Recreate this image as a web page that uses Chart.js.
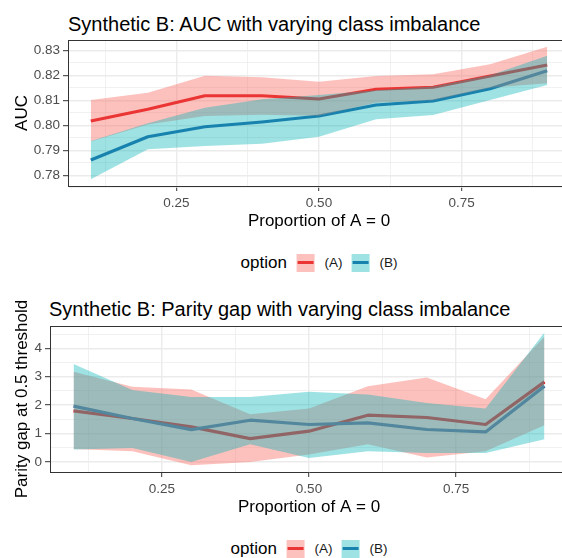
<!DOCTYPE html>
<html>
<head>
<meta charset="utf-8">
<script src="https://cdn.jsdelivr.net/npm/chart.js@4.4.1/dist/chart.umd.min.js"></script>
<style>
  html, body { margin: 0; padding: 0; background: #fff; }
  body { width: 562px; height: 558px; overflow: hidden; position: relative; font-family: "Liberation Sans", Arial, sans-serif; }
  canvas { position: absolute; left: 0; }
  .title { position: absolute; font-size: 20px; line-height: 20px; color: #000; white-space: nowrap; }
  .legend { position: absolute; display: flex; align-items: center; white-space: nowrap; transform: translateX(-50%); }
  .legend .name { font-size: 17px; line-height: 18px; margin-right: 10px; color: #000; }
  .legend .key { position: relative; width: 18px; height: 18px; background: #fff; margin-right: 9.5px; }
  .legend .key .ln { position: absolute; left: 1px; right: 1px; top: 7.3px; height: 3px; }
  .legend .key .band { position: absolute; left: 0; top: 0; right: 0; bottom: 0; }
  .legend .lab { font-size: 13.5px; line-height: 18px; color: #1a1a1a; margin-right: 9.5px; }
  .legend .lab:last-child { margin-right: 0; }
</style>
</head>
<body>
<div class="title" style="left:68px; top:13.5px;">Synthetic B: AUC with varying class imbalance</div>
<canvas id="aucChart" width="570" height="240" style="top:0px;"></canvas>
<div class="legend" id="aucLegend" style="left:319px; top:254px;"></div>

<div class="title" style="left:49px; top:299px;">Synthetic B: Parity gap with varying class imbalance</div>
<canvas id="gapChart" width="568" height="240" style="top:286px;"></canvas>
<div class="legend" id="gapLegend" style="left:309px; top:540px;"></div>

<script>
// --- DATA ---
const proportions = [0.1, 0.2, 0.3, 0.4, 0.5, 0.6, 0.7, 0.8, 0.9];
const optionNames = ['(A)', '(B)'];

// AUC: mean and band for each option
const aucA   = [0.8017, 0.8064, 0.8118, 0.8118, 0.8105, 0.8144, 0.8152, 0.8197, 0.8241];
const aucAHi = [0.8101, 0.8130, 0.8198, 0.8192, 0.8174, 0.8197, 0.8204, 0.8244, 0.8314];
const aucALo = [0.7935, 0.8003, 0.8037, 0.8042, 0.8038, 0.8090, 0.8100, 0.8150, 0.8168];
const aucB   = [0.7861, 0.7954, 0.7994, 0.8013, 0.8037, 0.8081, 0.8097, 0.8146, 0.8218];
const aucBHi = [0.7937, 0.8008, 0.8070, 0.8104, 0.8121, 0.8140, 0.8155, 0.8200, 0.8278];
const aucBLo = [0.7784, 0.7904, 0.7917, 0.7926, 0.7954, 0.8024, 0.8041, 0.8101, 0.8161];

// parity gap at 0.5 threshold: mean and band for each option
const gapA   = [1.80, 1.53, 1.235, 0.824, 1.083, 1.647, 1.566, 1.32, 2.82];
const gapAHi = [3.175, 2.646, 2.55, 1.68, 1.88, 2.67, 2.977, 2.21, 4.41];
const gapALo = [0.46, 0.377, -0.116, 0.0, 0.26, 0.624, 0.155, 0.377, 1.294];
const gapB   = [1.965, 1.53, 1.14, 1.47, 1.32, 1.376, 1.143, 1.058, 2.67];
const gapBHi = [3.446, 2.53, 2.29, 2.29, 2.47, 2.376, 2.08, 1.88, 4.56];
const gapBLo = [0.44, 0.494, 0.0, 0.624, 0.142, 0.377, 0.317, 0.317, 0.80];

// grid lines (major + minor) and the labelled ticks
const xGrid = [0.125, 0.25, 0.375, 0.5, 0.625, 0.75, 0.875];
const xTickLabels = [0.25, 0.5, 0.75];
const aucGrid = [0.775, 0.78, 0.785, 0.79, 0.795, 0.80, 0.805, 0.81, 0.815, 0.82, 0.825, 0.83];
const aucTickLabels = [0.78, 0.79, 0.80, 0.81, 0.82, 0.83];
const gapGrid = [0, 0.5, 1, 1.5, 2, 2.5, 3, 3.5, 4, 4.5];
const gapTickLabels = [0, 1, 2, 3, 4];

// --- STYLE ---
const FONT = '"Liberation Sans", Arial, sans-serif';
const lineColors = ['#de0006', '#2864aa'];
const bandColors = ['rgba(248,118,109,0.45)', 'rgba(0,178,182,0.38)'];

const isOn = (v, list) => list.some(t => Math.abs(t - v) < 1e-9);

// panel border along the top (left/bottom come from the axes)
const panelTop = {
    id: 'panelTop',
    afterDatasetsDraw(chart) {
        const { ctx, chartArea: a } = chart;
        ctx.save();
        ctx.strokeStyle = '#333333';
        ctx.lineWidth = 1;
        ctx.beginPath();
        ctx.moveTo(a.left, a.top + 0.5);
        ctx.lineTo(a.right, a.top + 0.5);
        ctx.stroke();
        ctx.restore();
    }
};

function axisStyle(grid, labels, digits) {
    return {
        afterBuildTicks: s => { s.ticks = grid.map(value => ({ value })); },
        grid: {
            color: '#EBEBEB',
            lineWidth: c => (c.tick && isOn(c.tick.value, labels)) ? 1.4 : 0.7,
            tickColor: c => (c.tick && isOn(c.tick.value, labels)) ? '#333333' : 'rgba(0,0,0,0)',
            tickLength: 5,
            tickWidth: 1
        },
        border: { color: '#333333', width: 1 },
        ticks: {
            callback: v => isOn(v, labels) ? v.toFixed(digits) : '',
            color: '#4D4D4D',
            font: { family: FONT, size: 13.5 },
            autoSkip: false,
            maxRotation: 0
        }
    };
}

function buildPanel(canvasId, series, yGrid, yLabels, yDigits, yMin, yMax, yTitle, yWidth) {
    const pts = arr => proportions.map((x, i) => ({ x, y: arr[i] }));
    const datasets = [];
    // lines go first; the bands are laid over them
    series.forEach((s, k) => datasets.push({
        data: pts(s.mean), borderColor: lineColors[k], borderWidth: 3.2,
        borderJoinStyle: 'round', pointRadius: 0, fill: false, order: 10 - k
    }));
    series.forEach((s, k) => {
        datasets.push({
            data: pts(s.lo), borderColor: 'rgba(0,0,0,0)', borderWidth: 0,
            pointRadius: 0, fill: false, order: 6 - 2 * k
        });
        datasets.push({
            data: pts(s.hi), borderColor: 'rgba(0,0,0,0)', borderWidth: 0,
            pointRadius: 0, backgroundColor: bandColors[k], fill: '-1', order: 5 - 2 * k
        });
    });

    const x = axisStyle(xGrid, xTickLabels, 2);
    Object.assign(x, {
        type: 'linear', min: 0.06, max: 0.94,
        afterFit: s => { s.height = 54; },
        title: { display: true, text: 'Proportion of A = 0', color: '#000',
                 font: { family: FONT, size: 17 }, padding: { top: 0, bottom: 8 } }
    });
    x.ticks.padding = 4;

    const y = axisStyle(yGrid, yLabels, yDigits);
    Object.assign(y, {
        type: 'linear', min: yMin, max: yMax,
        afterFit: s => { s.width = yWidth; },
        title: { display: true, text: yTitle, color: '#000',
                 font: { family: FONT, size: 17 }, padding: { top: 12, bottom: 0 } }
    });
    y.ticks.padding = 3;

    return new Chart(document.getElementById(canvasId), {
        type: 'line',
        data: { datasets },
        options: {
            responsive: false,
            animation: false,
            devicePixelRatio: 1,
            elements: { line: { tension: 0 } },
            layout: { padding: { top: 40, left: 0, right: 0, bottom: 0 } },
            plugins: { legend: { display: false }, tooltip: { enabled: false }, title: { display: false } },
            scales: { x, y }
        },
        plugins: [panelTop]
    });
}

function buildLegend(id) {
    const box = document.getElementById(id);
    box.innerHTML = '<span class="name">option</span>';
    optionNames.forEach((n, k) => {
        box.innerHTML += `<span class="key"><span class="ln" style="background:${lineColors[k]}"></span>` +
            `<span class="band" style="background:${bandColors[k]}"></span></span><span class="lab">${n}</span>`;
    });
}

buildPanel('aucChart',
    [{ mean: aucA, lo: aucALo, hi: aucAHi }, { mean: aucB, lo: aucBLo, hi: aucBHi }],
    aucGrid, aucTickLabels, 2, 0.7757, 0.8341, 'AUC', 68);

buildPanel('gapChart',
    [{ mean: gapA, lo: gapALo, hi: gapAHi }, { mean: gapB, lo: gapBLo, hi: gapBHi }],
    gapGrid, gapTickLabels, 0, -0.353, 4.787, 'Parity gap at 0.5 threshold', 50);

buildLegend('aucLegend');
buildLegend('gapLegend');
</script>
</body>
</html>
